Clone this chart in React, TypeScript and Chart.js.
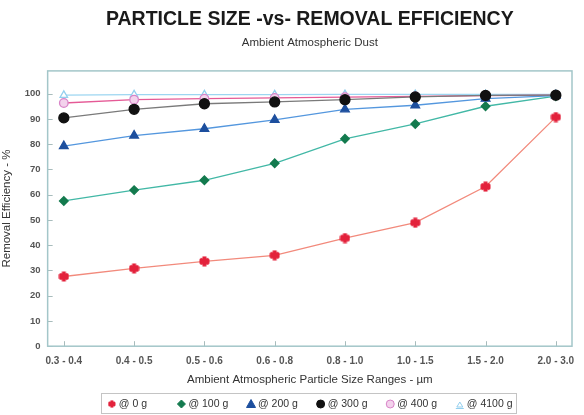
import React, { useEffect, useRef } from "react";
import { Chart, registerables } from "chart.js";

Chart.register(...registerables);

const categories = ["0.3 - 0.4", "0.4 - 0.5", "0.5 - 0.6", "0.6 - 0.8", "0.8 - 1.0", "1.0 - 1.5", "1.5 - 2.0", "2.0 - 3.0"];
const yTicks = [0, 10, 20, 30, 40, 50, 60, 70, 80, 90, 100];
const load0 = [27.6, 30.8, 33.6, 36.0, 42.8, 48.9, 63.2, 90.7];
const load100 = [57.5, 61.8, 65.7, 72.4, 82.1, 88.0, 95.0, 99.0];
const load200 = [79.2, 83.4, 86.1, 89.6, 93.8, 95.4, 98.0, 99.2];
const load300 = [90.4, 93.8, 96.0, 96.7, 97.6, 98.7, 99.3, 99.4];
const load400 = [96.3, 97.6, 98.0, 98.3, 98.6, 98.9, 99.2, 99.4];
const load4100 = [99.4, 99.6, 99.6, 99.6, 99.7, 99.7, 99.7, 99.7];
const seriesNames = ["@ 0 g", "@ 100 g", "@ 200 g", "@ 300 g", "@ 400 g", "@ 4100 g"];

const FONT = "'Liberation Sans', Arial, sans-serif";

function makePlus(color: string): HTMLCanvasElement {
  const c = document.createElement("canvas");
  c.width = 11;
  c.height = 11;
  const g = c.getContext("2d")!;
  g.fillStyle = color;
  g.beginPath();
  g.moveTo(3.5, 0.5);
  g.lineTo(7.5, 0.5);
  g.lineTo(7.5, 2.5);
  g.lineTo(9, 2);
  g.lineTo(10.5, 3.5);
  g.lineTo(10.5, 7.5);
  g.lineTo(9, 9);
  g.lineTo(7.5, 8.5);
  g.lineTo(7.5, 10.5);
  g.lineTo(3.5, 10.5);
  g.lineTo(3.5, 8.5);
  g.lineTo(2, 9);
  g.lineTo(0.5, 7.5);
  g.lineTo(0.5, 3.5);
  g.lineTo(2, 2);
  g.lineTo(3.5, 2.5);
  g.closePath();
  g.fill();
  return c;
}

function drawLegendMarker(ctx: CanvasRenderingContext2D, kind: string, x: number, y: number, fill: string, stroke: string, img?: HTMLCanvasElement) {
  ctx.save();
  ctx.fillStyle = fill;
  ctx.strokeStyle = stroke;
  ctx.lineWidth = 1;
  if (kind === "plus" && img) {
    ctx.drawImage(img, x - 4, y - 4, 8, 8);
  } else if (kind === "diamond") {
    ctx.beginPath();
    ctx.moveTo(x, y - 4);
    ctx.lineTo(x + 4, y);
    ctx.lineTo(x, y + 4);
    ctx.lineTo(x - 4, y);
    ctx.closePath();
    ctx.fill();
    ctx.stroke();
  } else if (kind === "triangle") {
    ctx.beginPath();
    ctx.moveTo(x, y - 4.5);
    ctx.lineTo(x + 4.5, y + 3.5);
    ctx.lineTo(x - 4.5, y + 3.5);
    ctx.closePath();
    ctx.fill();
    ctx.stroke();
  } else if (kind === "circle") {
    ctx.beginPath();
    ctx.arc(x, y, 4, 0, Math.PI * 2);
    ctx.fill();
    ctx.stroke();
  } else if (kind === "opentri") {
    ctx.beginPath();
    ctx.moveTo(x, y - 2);
    ctx.lineTo(x + 3, y + 3);
    ctx.lineTo(x - 3, y + 3);
    ctx.closePath();
    ctx.fill();
    ctx.stroke();
    ctx.beginPath();
    ctx.moveTo(x - 4, y + 4.5);
    ctx.lineTo(x + 4, y + 4.5);
    ctx.stroke();
  }
  ctx.restore();
}

export default function App() {
  const ref = useRef<HTMLCanvasElement>(null);
  useEffect(() => {
    if (!ref.current) return;
    const plus = makePlus("#e3213b");
    const toXY = (arr: number[]) => arr.map((v, i) => ({ x: i, y: v }));
    const legendKinds = ["plus", "diamond", "triangle", "circle", "circle", "opentri"];

    const framePlugin = {
      id: "framePlugin",
      afterDraw(chart: any) {
        const { ctx, chartArea } = chart;
        const { left, right, top, bottom } = chartArea;
        ctx.save();
        // inner tick marks
        ctx.strokeStyle = "#a8bcbc";
        ctx.lineWidth = 1;
        const xs = chart.scales.x;
        categories.forEach((_, i) => {
          const px = Math.round(xs.getPixelForValue(i)) + 0.5;
          ctx.beginPath();
          ctx.moveTo(px, bottom);
          ctx.lineTo(px, bottom - 5);
          ctx.stroke();
        });
        const ys = chart.scales.y;
        yTicks.forEach((v) => {
          const py = Math.round(ys.getPixelForValue(v)) + 0.5;
          ctx.beginPath();
          ctx.moveTo(left, py);
          ctx.lineTo(left + 5, py);
          ctx.stroke();
        });
        // plot frame
        ctx.strokeStyle = "#a3c6c9";
        ctx.lineWidth = 1.5;
        ctx.strokeRect(left, top, right - left, bottom - top);

        // legend
        const cx = (left + right) / 2;
        const colW = 69.6;
        const n = seriesNames.length;
        const firstMarker = cx - ((n - 1) * colW) / 2 - 24;
        const ly = chart.height - 11;
        const boxL = firstMarker - 11;
        const boxR = firstMarker + (n - 1) * colW + 56;
        ctx.strokeStyle = "#c4c4c4";
        ctx.lineWidth = 1;
        ctx.strokeRect(Math.round(boxL) + 0.5, Math.round(ly - 11) + 0.5, Math.round(boxR - boxL), 20);
        ctx.font = `10.5px ${FONT}`;
        ctx.fillStyle = "#333333";
        ctx.textBaseline = "middle";
        ctx.textAlign = "left";
        chart.data.datasets.forEach((ds: any, i: number) => {
          const mx = firstMarker + i * colW;
          drawLegendMarker(ctx, legendKinds[i], mx, ly, ds.pointBackgroundColor || ds.backgroundColor, ds.pointBorderColor || ds.borderColor, plus);
          ctx.fillStyle = "#333333";
          ctx.fillText(ds.label, mx + 7, ly);
        });
        ctx.restore();
      },
    };

    const chart = new Chart(ref.current, {
      type: "line",
      data: {
        datasets: [
          {
            label: seriesNames[0],
            data: toXY(load0),
            borderColor: "#f28a7c",
            backgroundColor: "#e3213b",
            pointBackgroundColor: "#e3213b",
            pointBorderColor: "#e3213b",
            pointStyle: plus as any,
            pointRadius: 5,
            borderWidth: 1.3,
            order: 5,
          },
          {
            label: seriesNames[1],
            data: toXY(load100),
            borderColor: "#42b8a6",
            backgroundColor: "#137a4e",
            pointBackgroundColor: "#137a4e",
            pointBorderColor: "#137a4e",
            pointStyle: "rectRot",
            pointRadius: 4.3,
            borderWidth: 1.3,
            order: 2,
          },
          {
            label: seriesNames[2],
            data: toXY(load200),
            borderColor: "#5497de",
            backgroundColor: "#1d4f9e",
            pointBackgroundColor: "#1d4f9e",
            pointBorderColor: "#1d4f9e",
            pointStyle: "triangle",
            pointRadius: 5,
            borderWidth: 1.3,
            order: 1,
          },
          {
            label: seriesNames[3],
            data: toXY(load300),
            borderColor: "#7a7a7a",
            backgroundColor: "#111111",
            pointBackgroundColor: "#111111",
            pointBorderColor: "#111111",
            pointStyle: "circle",
            pointRadius: 5,
            borderWidth: 1.3,
            order: 0,
          },
          {
            label: seriesNames[4],
            data: toXY(load400),
            borderColor: "#e55a96",
            backgroundColor: "#f3d2ec",
            pointBackgroundColor: "#f3d2ec",
            pointBorderColor: "#d884c8",
            pointStyle: "circle",
            pointRadius: 4.3,
            borderWidth: 1.3,
            order: 3,
          },
          {
            label: seriesNames[5],
            data: toXY(load4100),
            borderColor: "#9dd6f1",
            backgroundColor: "#ffffff",
            pointBackgroundColor: "#ffffff",
            pointBorderColor: "#93cfee",
            pointStyle: "triangle",
            pointRadius: 4.3,
            borderWidth: 1.3,
            order: 4,
          },
        ],
      },
      options: {
        animation: false,
        responsive: false,
        maintainAspectRatio: false,
        layout: { padding: { left: 0, right: 12, top: 0, bottom: 28 } },
        plugins: {
          tooltip: { enabled: false },
          legend: { display: false },
          title: {
            display: true,
            fullSize: false,
            text: "PARTICLE SIZE -vs- REMOVAL EFFICIENCY",
            color: "#1a1a1a",
            font: { family: FONT, size: 19.5, weight: "bold" },
            padding: { top: 8, bottom: 0 },
          },
          subtitle: {
            display: true,
            fullSize: false,
            text: "Ambient Atmospheric Dust",
            color: "#333333",
            font: { family: FONT, size: 11.5 },
            padding: { top: 4.7, bottom: 21 },
          },
        },
        scales: {
          x: {
            type: "linear",
            min: -0.23,
            max: 7.23,
            afterBuildTicks: (axis: any) => {
              axis.ticks = categories.map((_, i) => ({ value: i }));
            },
            ticks: {
              callback: (v: any) => categories[Math.round(Number(v))] ?? "",
              color: "#555555",
              font: { family: FONT, size: 10, weight: "bold" },
              maxRotation: 0,
              autoSkip: false,
              padding: 9,
            },
            grid: { display: false, drawTicks: false },
            border: { display: false },
            title: {
              display: true,
              text: "Ambient Atmospheric Particle Size Ranges - µm",
              color: "#333333",
              font: { family: FONT, size: 11.5 },
              padding: { top: -3, bottom: 0 },
            },
          },
          y: {
            type: "linear",
            min: 0,
            max: 109,
            afterBuildTicks: (axis: any) => {
              axis.ticks = yTicks.map((v) => ({ value: v }));
            },
            ticks: {
              color: "#555555",
              font: { family: FONT, size: 9.5, weight: "bold" },
              padding: 7,
            },
            grid: { display: false, drawTicks: false },
            border: { display: false },
            title: {
              display: true,
              text: "Removal Efficiency - %",
              color: "#333333",
              font: { family: FONT, size: 11.5 },
              padding: { top: 0, bottom: 4 },
            },
          },
        },
      },
      plugins: [framePlugin],
    });
    return () => chart.destroy();
  }, []);
  return (
    <div style={{ position: "absolute", left: 0, top: 0, width: 584, height: 415, background: "#ffffff" }}>
      <canvas ref={ref} width={584} height={415} style={{ display: "block", width: 584, height: 415 }} />
    </div>
  );
}
